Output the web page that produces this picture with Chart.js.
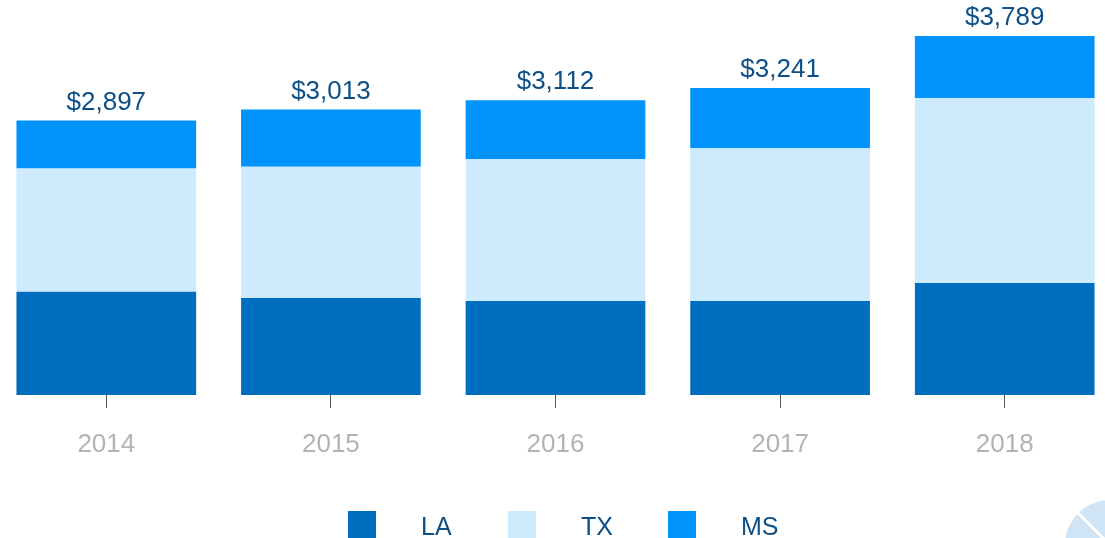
<!DOCTYPE html>
<html>
<head>
<meta charset="utf-8">
<script src="https://cdn.jsdelivr.net/npm/chart.js@4"></script>
<style>
  html, body { margin: 0; padding: 0; background: #fff; overflow: hidden; }
  #wrap { position: absolute; left: -6px; top: 0; width: 1123px; height: 538px; }
</style>
</head>
<body>
<div id="wrap"><canvas id="revChart"></canvas></div>
<script>
const years = ['2014', '2015', '2016', '2017', '2018'];
const laValues = [1090, 1025, 992, 992, 1182];
const txValues = [1300, 1385, 1498, 1616, 1953];
const msValues = [507, 603, 622, 633, 654];
const seriesNames = ['LA', 'TX', 'MS'];
const seriesColors = ['#006ebe', '#cdebfd', '#0093fc'];

const FONT = '"Liberation Sans", Arial, sans-serif';
const labelBlue = '#0d4f87';

// totals above each stack
const totalsPlugin = {
  id: 'totals',
  afterDatasetsDraw(chart) {
    const ctx = chart.ctx;
    const topMeta = chart.getDatasetMeta(chart.data.datasets.length - 1);
    ctx.save();
    ctx.font = '26px ' + FONT;
    ctx.fillStyle = labelBlue;
    ctx.textAlign = 'center';
    ctx.textBaseline = 'bottom';
    topMeta.data.forEach((bar, i) => {
      const total = laValues[i] + txValues[i] + msValues[i];
      ctx.fillText('$' + total.toLocaleString('en-US'), bar.x, bar.y - 5);
    });
    ctx.restore();
  }
};

// legend with wide gaps, plus the little pie mark in the corner
const legendPlugin = {
  id: 'wideLegend',
  afterDraw(chart) {
    const ctx = chart.ctx;
    ctx.save();
    ctx.font = '25px ' + FONT;
    ctx.textBaseline = 'alphabetic';
    let x = 354;
    seriesNames.forEach((name, i) => {
      ctx.fillStyle = seriesColors[i];
      ctx.fillRect(x, 511, 28, 28);
      ctx.fillStyle = labelBlue;
      ctx.fillText(name, x + 73, 535);
      x += 160;
    });

    const cx = 1116, cy = 545, r = 45;
    ctx.fillStyle = '#cfe5f6';
    ctx.beginPath();
    ctx.arc(cx, cy, r, 0, Math.PI * 2);
    ctx.fill();
    ctx.strokeStyle = '#ffffff';
    ctx.lineWidth = 3;
    ctx.beginPath();
    ctx.moveTo(cx, cy);
    ctx.lineTo(cx - r, cy - r);
    ctx.stroke();
    ctx.restore();
  }
};

const ctx = document.getElementById('revChart').getContext('2d');
new Chart(ctx, {
  type: 'bar',
  data: {
    labels: years,
    datasets: [
      { label: seriesNames[0], data: laValues, backgroundColor: seriesColors[0] },
      { label: seriesNames[1], data: txValues, backgroundColor: seriesColors[1] },
      { label: seriesNames[2], data: msValues, backgroundColor: seriesColors[2] }
    ]
  },
  options: {
    responsive: true,
    maintainAspectRatio: false,
    animation: false,
    layout: { padding: 0 },
    datasets: {
      bar: { categoryPercentage: 0.8, barPercentage: 1.0, borderWidth: 0 }
    },
    plugins: {
      legend: { display: false },
      tooltip: { enabled: false }
    },
    scales: {
      x: {
        stacked: true,
        border: { display: false },
        grid: {
          display: true,
          offset: false,
          drawOnChartArea: false,
          drawTicks: true,
          tickLength: 13,
          color: '#555555'
        },
        ticks: {
          color: '#b3b3b3',
          font: { family: FONT, size: 26 },
          padding: 21,
          maxRotation: 0
        },
        afterFit(scale) { scale.height = 143; }
      },
      y: {
        stacked: true,
        display: false,
        min: 0,
        max: 4170
      }
    }
  },
  plugins: [totalsPlugin, legendPlugin]
});
</script>
</body>
</html>
